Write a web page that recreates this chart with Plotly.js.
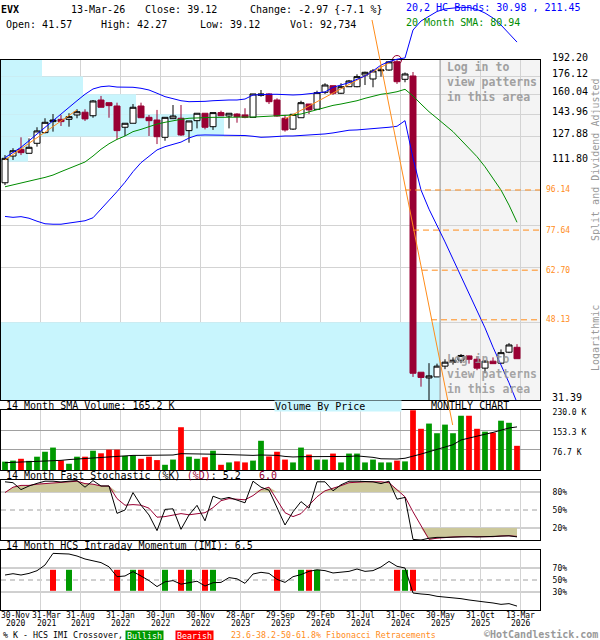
<!DOCTYPE html>
<html><head><meta charset="utf-8">
<script src="https://cdn.plot.ly/plotly-3.0.1.min.js"></script>
<style>html,body{margin:0;padding:0;background:#fff}#chart{width:600px;height:640px}</style>
</head><body><div id="chart"></div>
<script>
// ---------------- DATA ----------------
const months = ['2020-11','2020-12','2021-01','2021-02','2021-03','2021-04','2021-05','2021-06','2021-07','2021-08','2021-09','2021-10','2021-11','2021-12',
'2022-01','2022-02','2022-03','2022-04','2022-05','2022-06','2022-07','2022-08','2022-09','2022-10','2022-11','2022-12',
'2023-01','2023-02','2023-03','2023-04','2023-05','2023-06','2023-07','2023-08','2023-09','2023-10','2023-11','2023-12',
'2024-01','2024-02','2024-03','2024-04','2024-05','2024-06','2024-07','2024-08','2024-09','2024-10','2024-11','2024-12',
'2025-01','2025-02','2025-03','2025-04','2025-05','2025-06','2025-07','2025-08','2025-09','2025-10','2025-11','2025-12',
'2026-01','2026-02','2026-03'];
const openP  = [99.9,115.2,119.4,116.9,123.3,130.5,138.4,140.1,140.1,143.4,145.5,142.8,155.3,153.1,150.4,134.3,137.2,150.4,141.6,139.6,127.3,140.6,140.9,131.9,139.1,144.7,134.7,145.2,142.6,144.1,143.4,141.6,159.2,160.4,155.3,140.9,133.0,141.3,152.0,147.8,161.8,167.6,161.0,166.7,166.7,177.4,173.7,181.5,182.2,190.5,173.4,176.5,36.4,35.3,35.5,37.6,38.4,38.8,39.7,39.0,37.2,38.6,38.2,40.5,41.57];
const highP  = [115.8,120.1,127.3,126.6,134.3,140.9,144.1,143.4,144.7,147.8,147.8,155.3,158.7,153.1,153.1,137.2,152.0,153.1,143.4,147.3,141.6,151.2,151.2,138.9,144.7,144.7,145.2,146.7,144.7,144.7,148.6,160.4,163.8,161.0,156.7,143.4,143.9,154.7,152.0,163.2,169.8,167.6,169.8,172.8,178.1,180.6,183.2,186.4,190.8,192.2,179.8,180.3,36.4,38.2,38.1,39.0,39.4,40.1,39.8,39.6,38.8,39.4,41.1,42.5,42.27];
const lowP   = [98.7,112.8,115.8,116.9,121.1,130.0,131.2,135.2,134.7,140.9,138.9,141.3,149.4,141.3,125.9,128.2,137.2,141.3,128.2,122.8,125.0,140.6,128.2,123.7,133.5,132.8,132.4,142.8,133.5,137.6,140.9,141.6,158.1,152.0,142.1,131.2,132.4,141.3,144.1,147.8,160.4,159.5,160.4,166.7,166.2,168.2,166.2,175.9,181.5,169.2,170.7,35.5,33.7,31.39,35.5,37.0,37.9,38.2,38.1,36.8,36.2,38.1,38.1,40.3,39.12];
const closeP = [113.8,118.5,117.3,120.7,131.7,137.9,139.6,138.4,142.1,145.9,140.4,154.5,149.4,150.7,131.9,137.2,149.4,141.3,139.1,127.7,141.6,142.6,128.9,138.9,144.7,134.3,145.2,142.8,144.7,142.1,141.6,160.4,160.4,153.9,142.6,132.4,143.9,153.1,147.3,161.5,168.2,161.0,166.7,171.9,175.9,180.0,181.3,182.2,190.3,171.2,178.4,36.2,35.4,35.7,37.6,38.4,38.8,39.8,39.0,37.2,38.6,38.1,40.4,42.09,39.12];
const volumeK = [32,36,43,35,51,70,86,37,24,51,51,74,64,78,78,54,56,43,51,38,20,40,164,51,43,49,74,20,29,33,29,36,112,52,70,40,29,86,59,40,40,63,29,63,63,29,40,29,29,36,33,229,158,178,141,174,141,208,208,158,147,143,189,181,92.7];
const volumeSmaK = [28,29,31,32,33,34.5,37,37,40,42,46,47,48.5,50,52,55,56,56,56,56,55,57.5,62.6,62.6,61,61,61,60,59,57.5,56,56,57.5,57.5,56,52,50,51,51,51,51,52,52,52,54,52,48.5,43,42,42,45,52,61,70,78,87,97,115,123,129,137,144,153,161,165.2];
const hcUpper = [114.2,117.3,120.7,125.0,129.6,134.3,139.1,144.1,149.4,154.7,160.1,164.7,166.7,167.3,166.4,166.2,166.2,165.3,163.8,161.0,158.1,156.4,154.7,153.9,153.9,154.2,154.7,155.3,155.3,155.3,156.1,159.5,160.1,160.1,160.1,159.5,159.5,159.8,160.4,161.2,162.1,166.2,168.5,170.3,173.4,176.5,181.3,187.1,190.5,193.0,194.3,225.5,236.6,243.0,248.9,252.3,253.6,254.6,254.3,251.6,246.9,240.4,231.6,221.4,211.45];
const hcLower = [83.5,83.1,83.4,82.7,81.4,80.3,80.1,80.1,80.6,81.1,81.6,82.9,86.7,90.7,95.3,100.2,106.0,111.2,115.2,119.0,121.1,122.4,124.1,126.8,128.7,128.9,128.9,128.9,128.9,128.9,128.5,128.0,127.3,127.5,128.0,128.2,128.2,128.5,128.7,128.9,129.6,130.3,131.2,132.2,132.4,132.8,133.3,134.0,134.3,135.0,139.1,114.0,96.1,86.8,79.8,72.9,66.5,60.8,55.5,50.7,46.1,41.6,38.0,34.4,30.98];
const sma20 = [97.8,98.7,99.6,100.8,101.8,102.8,104.1,106.0,107.7,109.8,111.6,115.2,119.4,123.0,125.9,128.2,131.2,132.8,134.7,136.6,137.9,139.1,140.1,140.9,141.3,141.6,141.6,141.6,141.8,141.8,141.8,141.8,142.1,142.3,142.6,142.8,143.4,144.1,145.9,147.8,149.4,150.9,152.0,153.1,154.7,156.7,158.7,160.1,161.0,162.3,164.4,158.7,152.0,145.9,140.9,135.9,131.2,125.5,120.1,114.8,108.8,102.3,96.1,88.7,80.94];
const stochK = [97,95.5,84,90,94.4,98,98,96.7,98,99,88,99,90,90,44.4,50,79,58,41.7,15.6,51,52,17.8,41.7,57.8,32,73,68,71,67,62,98,88,83,53,25,47,64,53,97,97,82,92,98,98,97,97,94,98,68,71,1,0,3,4.4,4.4,5,5.5,5.5,5,5.5,5.5,6,7,5.2];
const stochD = [79,88,91,91,93,94,95.5,95.5,97,98,94,93,90,90,69,58,59,58,53,38,39,41,44,42,44,45.5,54,65.5,69,68,67,74,84,88,67,45.5,39,44,58,72,82,86,90.5,95.5,96.7,97,97,97,95.5,84,72,47,23,1,3,4.4,5,5.5,5.5,5,5,5.5,6.7,7,6.0];
const imi = [58.3,60.5,58.3,61,65.5,75,94.4,94.4,93.3,90,85,82,79,72,55.5,56.7,64,56.7,49,39,47,49,43,45.5,48,40,45.5,46,54,52,44.4,60,62.8,61,51,46,55.5,59,64.4,67,65.6,61.7,63.3,64.4,68.3,64.4,65.6,71.7,81,72.8,70,28.3,26.7,25.6,22.8,21.7,21.1,18.9,16.7,14.4,13.3,11.7,9.4,10.6,6.5];
const bullishCross = [8,16,20,23,26,37,39,50];
const bearishCross = [6,14,17,22,25,34,38,49,51];
const trendLeftX = [0, 9],   trendLeftY = [112.8, 147.3];
const trendMidX  = [35, 48], trendMidY  = [140.4, 189.2];
const fibLineX = [45.875, 55.96], fibLineY = [237.9, 27.47];
const fibLevels = [96.14, 77.64, 62.70, 48.13];
const fibStartX = [50.0, 51.0, 52.1, 53.25];
const priceGrid = [192.20,176.12,160.04,143.96,127.88,111.80,95.72,79.64,63.56,47.48,31.39];
const priceGridText = ['192.20','176.12','160.04','143.96','127.88','111.80','','','','','31.39'];
const vbpTop    = [192.20,176.12,160.04,143.96,127.88,111.80,95.72,79.64,63.56,47.48];
const vbpBottom = [176.12,160.04,143.96,127.88,111.80,95.72,79.64,63.56,47.48,31.39];
const vbpReach  = [4.625,9.75,16.375,27.375,2.875,null,null,null,null,54.375];
const dateTickIdx  = [0,4,9,14,19,24,29,34,39,44,49,54,59,64];
const dateTickDay  = ['30-Nov','31-Mar','31-Aug','31-Jan','30-Jun','30-Nov','28-Apr','29-Sep','29-Feb','31-Jul','31-Dec','30-May','31-Oct','13-Mar'];
const dateTickYear = ['2020','2021','2021','2022','2022','2022','2023','2023','2024','2024','2024','2025','2025','2026'];
const volTicks = [76.7,153.3,230.0], volTickText = ['76.7 K','153.3 K','230.0 K'];
const oscLevelsStoch = [20,50,80], oscLevelsImi = [30,50,70];

// ---------------- LAYOUT GEOMETRY ----------------
const W = 600, H = 640;
const FONT = '"DejaVu Sans Mono", monospace';
const RED = '#990033', ORANGE = '#FF8C1A', BLUE = '#0000FF', GREEN = '#008C00';
const px = p => p / W, py = p => 1 - p / H;
const xRange = [-0.5, 66.875];
const xDom = [px(1), px(540)];
const gridX = dateTickIdx.slice(1).map(i => i + 0.375);
const patternStart = 54.375;
const yLo = Math.log10(31.39), yHi = Math.log10(192.2);
const perPx = (yHi - yLo) / 340;
const idx = months.map((_, i) => i);
const last = closeP.length - 1;

function xAxis(anchor, extra) {
  return Object.assign({domain: xDom, range: xRange, anchor, showgrid: true, gridcolor: '#D3D3D3', gridwidth: 1,
    tickvals: gridX, showticklabels: false, ticks: '', zeroline: false, showline: true, mirror: true,
    linecolor: '#000', linewidth: 1, fixedrange: true}, extra || {});
}
function yAxis(domain, extra) {
  return Object.assign({domain, anchor: 'x', side: 'right', ticks: '', zeroline: false, showline: true, mirror: true,
    linecolor: '#000', linewidth: 1, fixedrange: true, tickfont: {family: FONT, size: 8, color: '#000'}}, extra || {});
}

const traces = [];
const skip = {hoverinfo: 'skip', showlegend: false};
// volume-by-price bands as horizontal bars (bar layer sits above grid, below candles)
const vbpRows = vbpReach.map((r, i) => i).filter(i => vbpReach[i] != null);
traces.push(Object.assign({type: 'bar', orientation: 'h', xaxis: 'x', yaxis: 'y',
  y: vbpRows.map(i => (vbpTop[i] + vbpBottom[i]) / 2),
  width: vbpRows.map(i => vbpTop[i] - vbpBottom[i]),
  x: vbpRows.map(i => vbpReach[i] - xRange[0]), base: xRange[0],
  marker: {color: '#C8F5FD', line: {width: 0}}}, skip));
// main price panel
traces.push(Object.assign({type: 'candlestick', x: idx, open: openP, high: highP, low: lowP, close: closeP,
  xaxis: 'x', yaxis: 'y', whiskerwidth: 0,
  increasing: {line: {color: '#000', width: 1}, fillcolor: '#FFFFFF'},
  decreasing: {line: {color: RED, width: 1}, fillcolor: RED}}, skip));
traces.push(Object.assign({type: 'scatter', mode: 'lines', x: [patternStart, patternStart], y: [priceGrid[priceGrid.length - 1], priceGrid[0]],
  xaxis: 'x', yaxis: 'y', line: {color: '#A0A0A0', width: 1}}, skip));
traces.push(Object.assign({type: 'scatter', mode: 'lines', x: idx, y: sma20, xaxis: 'x', yaxis: 'y', line: {color: GREEN, width: 1}}, skip));
traces.push(Object.assign({type: 'scatter', mode: 'lines', x: idx, y: hcLower, xaxis: 'x', yaxis: 'y', line: {color: BLUE, width: 1}}, skip));
traces.push(Object.assign({type: 'scatter', mode: 'lines', x: trendLeftX, y: trendLeftY, xaxis: 'x', yaxis: 'y', line: {color: ORANGE, width: 1}}, skip));
traces.push(Object.assign({type: 'scatter', mode: 'lines', x: trendMidX, y: trendMidY, xaxis: 'x', yaxis: 'y', line: {color: ORANGE, width: 1}}, skip));
fibLevels.forEach((lv, i) => {
  traces.push(Object.assign({type: 'scatter', mode: 'lines', x: [fibStartX[i], xRange[1]], y: [lv, lv], xaxis: 'x', yaxis: 'y',
    line: {color: ORANGE, width: 1, dash: '6px,4px'}}, skip));
});
const hiI = highP.indexOf(Math.max(...highP)), loI = lowP.indexOf(Math.min(...lowP));
traces.push(Object.assign({type: 'scatter', mode: 'markers', x: [hiI, loI], y: [highP[hiI], lowP[loI]], xaxis: 'x', yaxis: 'y', cliponaxis: false,
  marker: {symbol: 'circle-open', size: 9, color: RED, line: {width: 1, color: RED}}}, skip));
// extended (unclipped) overlay axis
traces.push(Object.assign({type: 'scatter', mode: 'lines', x: idx, y: hcUpper, xaxis: 'x5', yaxis: 'y5', line: {color: BLUE, width: 1}}, skip));
traces.push(Object.assign({type: 'scatter', mode: 'lines', x: fibLineX, y: fibLineY, xaxis: 'x5', yaxis: 'y5', line: {color: ORANGE, width: 1}}, skip));
// volume
traces.push(Object.assign({type: 'bar', x: idx, y: volumeK, xaxis: 'x2', yaxis: 'y2', width: 0.72,
  marker: {color: idx.map(i => closeP[i] >= openP[i] ? '#009900' : '#FF0000'), line: {width: 0}}}, skip));
traces.push(Object.assign({type: 'scatter', mode: 'lines', x: idx, y: volumeSmaK, xaxis: 'x2', yaxis: 'y2', line: {color: '#000', width: 1}}, skip));
// stochastic
const FILL = '#CCC89B';
traces.push(Object.assign({type: 'scatter', mode: 'lines', x: idx, y: idx.map(() => 80), xaxis: 'x3', yaxis: 'y3', line: {width: 0}}, skip));
traces.push(Object.assign({type: 'scatter', mode: 'lines', x: idx, y: stochD.map(v => Math.max(v, 80)), xaxis: 'x3', yaxis: 'y3', line: {width: 0}, fill: 'tonexty', fillcolor: FILL}, skip));
traces.push(Object.assign({type: 'scatter', mode: 'lines', x: idx, y: idx.map(() => 20), xaxis: 'x3', yaxis: 'y3', line: {width: 0}}, skip));
traces.push(Object.assign({type: 'scatter', mode: 'lines', x: idx, y: stochD.map(v => Math.min(v, 20)), xaxis: 'x3', yaxis: 'y3', line: {width: 0}, fill: 'tonexty', fillcolor: FILL}, skip));
traces.push(Object.assign({type: 'scatter', mode: 'lines', x: idx, y: stochD, xaxis: 'x3', yaxis: 'y3', line: {color: RED, width: 1}}, skip));
traces.push(Object.assign({type: 'scatter', mode: 'lines', x: idx, y: stochK, xaxis: 'x3', yaxis: 'y3', line: {color: '#000', width: 1}}, skip));
// IMI
traces.push(Object.assign({type: 'bar', x: bullishCross, y: bullishCross.map(() => 35), base: 32, xaxis: 'x4', yaxis: 'y4', width: 0.75, marker: {color: '#009900', line: {width: 0}}}, skip));
traces.push(Object.assign({type: 'bar', x: bearishCross, y: bearishCross.map(() => 35), base: 32, xaxis: 'x4', yaxis: 'y4', width: 0.75, marker: {color: '#FF0000', line: {width: 0}}}, skip));
traces.push(Object.assign({type: 'scatter', mode: 'lines', x: idx, y: imi, xaxis: 'x4', yaxis: 'y4', line: {color: '#000', width: 1}}, skip));

// shapes
const shapes = [];
shapes.push({type: 'rect', xref: 'x', yref: 'paper', x0: patternStart, x1: xRange[1], y0: py(400), y1: py(60), fillcolor: '#F4F4F4', line: {width: 0}, layer: 'below'});
oscLevelsStoch.forEach(v => shapes.push({type: 'line', xref: 'paper', yref: 'y3', x0: xDom[0], x1: xDom[1], y0: v, y1: v, layer: 'below', line: {color: '#A0A0A0', width: 1, dash: v === 50 ? '5px,4px' : 'solid'}}));
oscLevelsImi.forEach(v => shapes.push({type: 'line', xref: 'paper', yref: 'y4', x0: xDom[0], x1: xDom[1], y0: v, y1: v, layer: 'below', line: {color: '#A0A0A0', width: 1, dash: v === 50 ? '5px,4px' : 'solid'}}));

// annotations
const ann = [];
function A(text, x, y, o) {
  ann.push(Object.assign({text, xref: 'paper', yref: 'paper', x: px(x), y: py(y), xanchor: 'left', yanchor: 'middle',
    showarrow: false, borderpad: 0, font: {family: FONT, size: 10, color: '#000'}}, o || {}));
}
const chg = closeP[last] - closeP[last - 1];
A('<b>EVX</b>', 0, 9.5);
A('13-Mar-26', 69.6, 9.5);
A('Close: ' + closeP[last].toFixed(2), 144, 9.5);
A('Change: ' + chg.toFixed(2) + ' {' + (chg / closeP[last - 1] * 100).toFixed(1) + ' %}', 249, 9.5);
A('Open: ' + openP[last].toFixed(2), 4.6, 24.5);
A('High: ' + highP[last].toFixed(2), 99.5, 24.5);
A('Low: ' + lowP[last].toFixed(2), 199.4, 24.5);
A('Vol: 92,734', 289, 24.5);
A('20,2 HC Bands: ' + hcLower[last].toFixed(2) + ' , ' + hcUpper[last].toFixed(2), 405, 7, {font: {family: FONT, size: 10, color: BLUE}});
A('20 Month SMA: ' + sma20[last].toFixed(2), 405, 23, {font: {family: FONT, size: 10, color: GREEN}});
A('<b>Log in to<br>view patterns<br>in this area</b>', 446, 82, {align: 'left', font: {family: FONT, size: 11.5, color: '#A0A0A0'}});
A('<b>Log in to<br>view patterns<br>in this area</b>', 446, 374, {align: 'left', font: {family: FONT, size: 11.5, color: 'rgba(150,150,150,0.85)'}});
A('Split and Dividend Adjusted', 595, 160, {xanchor: 'center', textangle: -90, font: {family: FONT, size: 10, color: '#999'}});
A('Logarithmic', 595, 338, {xanchor: 'center', textangle: -90, font: {family: FONT, size: 10, color: '#999'}});
fibLevels.forEach(lv => ann.push({text: lv.toFixed(2), xref: 'paper', yref: 'y', x: px(545), y: Math.log10(lv), xanchor: 'left', yanchor: 'middle',
  showarrow: false, borderpad: 0, font: {family: FONT, size: 8, color: ORANGE}}));
A('14 Month SMA Volume: ' + volumeSmaK[last].toFixed(1) + ' K', 5, 405.5);
A('Volume By Price', 274, 405.5, {bgcolor: '#C8F5FD', width: 126, height: 10, align: 'left'});
A('MONTHLY CHART', 430, 405.5);
A('14 Month Fast Stochastic (%K) <span style="color:' + RED + '">(%D)</span>: ' + stochK[last].toFixed(1) + '\u00A0\u00A0 <span style="color:' + RED + '">' + stochD[last].toFixed(1) + '</span>', 5, 475.5);
A('14 Month HCS Intraday Momentum (IMI): ' + imi[last].toFixed(1), 5, 545.5);
// date labels
dateTickIdx.forEach((m, i) => {
  const xv = i === 0 ? px(15.5) : (i === 1 ? m + 0.375 + 0.75 : m + 0.375);
  const base = {xref: i === 0 ? 'paper' : 'x4', yref: 'paper', x: xv, xanchor: 'center', yanchor: 'middle',
    showarrow: false, borderpad: 0, font: {family: FONT, size: 8, color: '#000'}};
  ann.push(Object.assign({}, base, {text: dateTickDay[i], y: py(615)}));
  ann.push(Object.assign({}, base, {text: dateTickYear[i], y: py(623.8)}));
});
// footer
A('% K - HCS IMI Crossover,', 2, 635, {font: {family: FONT, size: 8.3, color: '#000'}});
A('Bullish', 125, 635, {bgcolor: '#009900', width: 37, height: 9, font: {family: FONT, size: 8.3, color: '#FFF'}});
A('Bearish', 175, 635, {bgcolor: '#FF0000', width: 37, height: 9, font: {family: FONT, size: 8.3, color: '#FFF'}});
A('23.6-38.2-50-61.8% Fibonacci Retracements', 230, 635, {font: {family: FONT, size: 8.3, color: ORANGE}});
A('<b>\u00A9HotCandlestick.com</b>', 599, 634.3, {xanchor: 'right', font: {family: FONT, size: 10, color: '#999'}});

const layout = {
  width: W, height: H, margin: {l: 0, r: 0, t: 0, b: 0}, paper_bgcolor: '#FFFFFF', plot_bgcolor: 'rgba(0,0,0,0)',
  showlegend: false, dragmode: false, boxgap: 0.25, boxgroupgap: 0, barmode: 'overlay',
  xaxis: xAxis('y', {rangeslider: {visible: false}}),
  xaxis2: xAxis('y2'), xaxis3: xAxis('y3'), xaxis4: xAxis('y4'),
  xaxis5: {domain: xDom, range: xRange, anchor: 'y5', visible: false, fixedrange: true},
  yaxis: yAxis([py(400), py(60)], {type: 'log', range: [yLo, yHi], tickvals: priceGrid, ticktext: priceGridText,
    showgrid: true, gridcolor: '#D3D3D3', ticklabelstandoff: 9, ticklabelshift: -3, tickfont: {family: FONT, size: 10, color: '#000'}}),
  yaxis5: {domain: [py(430), 1], anchor: 'x5', type: 'log', range: [yLo - 30 * perPx, yHi + 60 * perPx], visible: false, fixedrange: true},
  yaxis2: yAxis([py(470), py(410)], {anchor: 'x2', range: [0, 230], tickvals: volTicks, ticktext: volTickText, showgrid: true,
    gridcolor: '#A0A0A0', ticklabelstandoff: 10, ticklabelshift: 2}),
  yaxis3: yAxis([py(540), py(480)], {anchor: 'x3', range: [0, 100], tickvals: oscLevelsStoch, ticktext: oscLevelsStoch.map(v => v + '%'), showgrid: false, ticklabelstandoff: 10}),
  yaxis4: yAxis([py(610), py(550)], {anchor: 'x4', range: [0, 100], tickvals: oscLevelsImi, ticktext: oscLevelsImi.map(v => v + '%'), showgrid: false, ticklabelstandoff: 10}),
  shapes, annotations: ann
};
Plotly.newPlot('chart', traces, layout, {staticPlot: true, displayModeBar: false});
</script></body></html>
